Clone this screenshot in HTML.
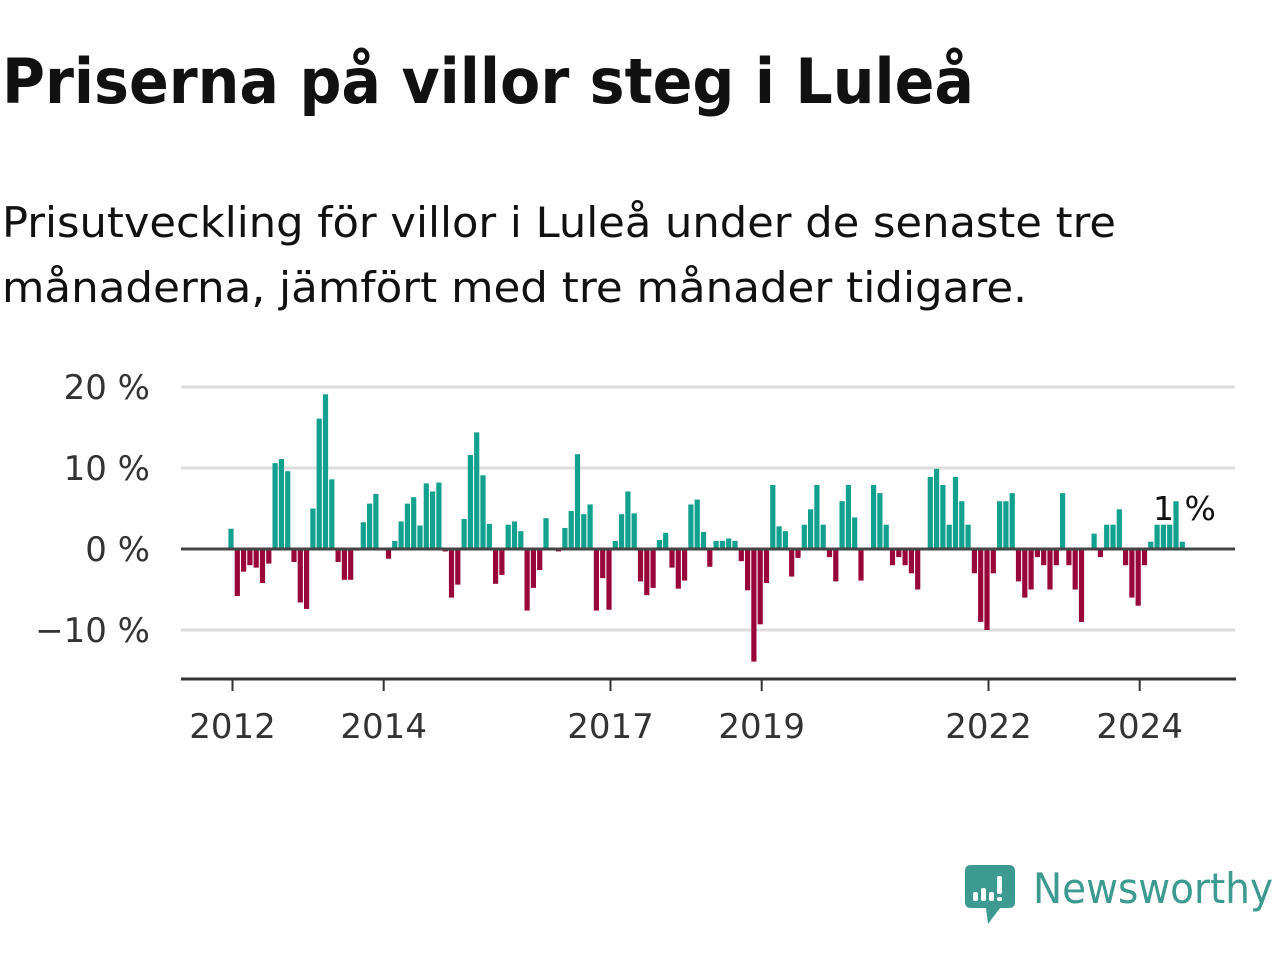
<!DOCTYPE html>
<html><head><meta charset="utf-8">
<style>
body{margin:0;background:#fff;width:1280px;height:960px;overflow:hidden;font-family:"Liberation Sans","DejaVu Sans",sans-serif;}
svg{position:absolute;left:0;top:0}
</style></head>
<body>
<svg width="1280" height="960" viewBox="0 0 1280 960">
<text x="2" y="103" font-size="62" font-weight="bold" fill="#111" font-family="DejaVu Sans, sans-serif" textLength="972" lengthAdjust="spacingAndGlyphs">Priserna på villor steg i Luleå</text>
<text x="2" y="237" font-size="42" fill="#111" font-family="DejaVu Sans, sans-serif" textLength="1114" lengthAdjust="spacingAndGlyphs">Prisutveckling för villor i Luleå under de senaste tre</text>
<text x="2" y="302" font-size="42" fill="#111" font-family="DejaVu Sans, sans-serif" textLength="1025" lengthAdjust="spacingAndGlyphs">månaderna, jämfört med tre månader tidigare.</text>
<g id="grid"></g>
<g id="bars"></g>
<g id="axes"></g>
<g>
<path d="M971 865 H1009 Q1015 865 1015 871 V902 Q1015 908 1009 908 H1000 L988 924 L986 908 H971 Q965 908 965 902 V871 Q965 865 971 865 Z" fill="#3c9a90"/>
<rect x="973" y="892" width="5" height="9" rx="2" fill="#fff"/>
<rect x="981" y="888" width="5" height="13" rx="2" fill="#fff"/>
<rect x="989" y="892" width="5" height="9" rx="2" fill="#fff"/>
<rect x="997" y="876" width="5" height="18" rx="2" fill="#fff"/>
<rect x="997" y="897" width="5" height="4" rx="2" fill="#fff"/>
<text x="1033" y="903" font-size="42" fill="#3c9a90" font-family="DejaVu Sans, sans-serif" textLength="240" lengthAdjust="spacingAndGlyphs">Newsworthy</text>
</g>
</svg>
<script>
const values=[2.5,-5.8,-2.8,-2,-2.3,-4.2,-1.8,10.6,11.1,9.6,-1.6,-6.6,
-7.4,5,16.1,19.1,8.6,-1.6,-3.8,-3.8,-0.2,3.3,5.6,6.8,
0,-1.2,1,3.4,5.6,6.4,2.9,8.1,7.1,8.2,-0.3,-6,
-4.4,3.7,11.6,14.4,9.1,3.1,-4.3,-3.2,3.0,3.4,2.2,-7.6,
-4.8,-2.6,3.8,0,-0.3,2.6,4.7,11.7,4.3,5.5,-7.6,-3.6,
-7.5,1,4.3,7.1,4.4,-4,-5.7,-4.8,1.1,2,-2.3,-4.9,
-3.9,5.5,6.1,2.1,-2.2,1,1,1.3,1,-1.5,-5.1,-13.9,
-9.3,-4.2,7.9,2.8,2.2,-3.4,-1.1,3,4.9,7.9,3,-1,
-4,5.9,7.9,3.9,-3.9,0,7.9,6.9,3,-2,-1,-2,
-3,-5,0,8.9,9.9,7.9,3,8.9,5.9,3,-3,-9,
-10,-3,5.9,5.9,6.9,-4,-6,-5,-1,-2,-5,-2,
6.9,-2,-5,-9,0,1.9,-1,3,3,4.9,-2,-6,
-7,-2,0.9,3,3,3,5.9,0.9];
const yTicks=[20,10,0,-10];
const yTickLabels=["20 %","10 %","0 %","\u221210 %"];
const xYears=[2012,2014,2017,2019,2022,2024];
const lastLabel="1 %";
const NS="http://www.w3.org/2000/svg";
const x=i=>231+i*6.3;
const y=v=>549-v*8.1;
const xYear=yr=>x((yr-2012)*12)+1.5;
function mk(tag,attrs,parent){const e=document.createElementNS(NS,tag);for(const k in attrs)e.setAttribute(k,attrs[k]);parent.appendChild(e);return e;}
const grid=document.getElementById('grid'),bars=document.getElementById('bars'),axes=document.getElementById('axes');
yTicks.forEach((t,k)=>{
  if(t!==0){const l=mk('line',{x1:181,x2:1235,y1:y(t),y2:y(t),stroke:'#ddd','stroke-width':3},grid);
  
  }
  const tx=mk('text',{x:150,y:y(t)+12,'font-size':34,'text-anchor':'end',fill:'#333','font-family':'DejaVu Sans, sans-serif'},axes);
  tx.textContent=yTickLabels[k];
  
  
});
values.forEach((v,i)=>{
  const r=mk('rect',{x:x(i)-2.6,width:5.2,y:Math.min(y(v),y(0)),height:Math.abs(y(v)-y(0)),fill:v>=0?'#12a08f':'#98063a'},bars);
  
  
});
const z=mk('line',{x1:181,x2:1235,y1:y(0),y2:y(0),stroke:'#444','stroke-width':3},axes);


const ax=mk('line',{x1:181,x2:1236,y1:679,y2:679,stroke:'#333','stroke-width':3},axes);


xYears.forEach(yr=>{
  const t=mk('line',{x1:xYear(yr),x2:xYear(yr),y1:679,y2:691,stroke:'#333','stroke-width':2},axes);
  
  
  const tx=mk('text',{x:xYear(yr),y:738,'font-size':34,'text-anchor':'middle',fill:'#333','font-family':'DejaVu Sans, sans-serif'},axes);
  tx.textContent=yr;
  
  
});
const lab=mk('text',{x:1153,y:520,'font-size':33,fill:'#111',stroke:'#fff','stroke-width':5,'paint-order':'stroke','font-family':'DejaVu Sans, sans-serif'},axes);
lab.textContent=lastLabel;


</script>
</body></html>
